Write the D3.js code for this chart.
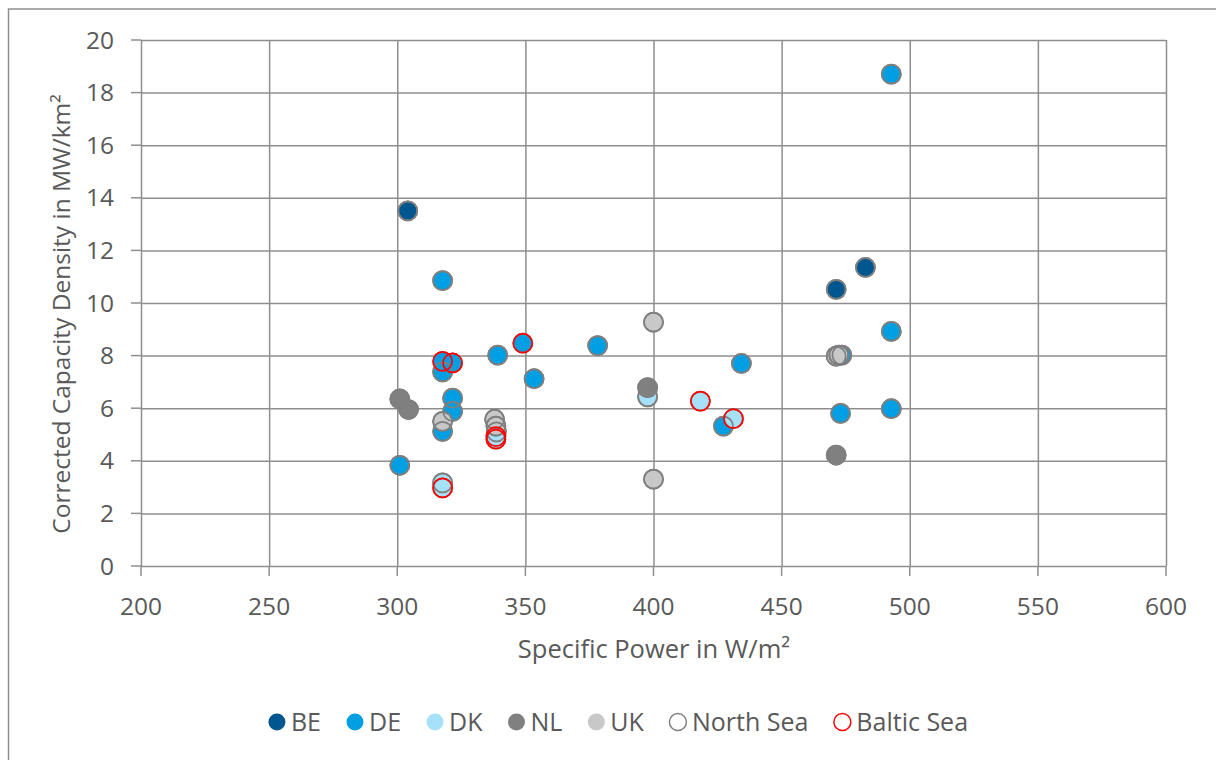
<!DOCTYPE html>
<html>
<head>
<meta charset="utf-8">
<script src="https://cdn.jsdelivr.net/npm/d3@7"></script>
<style>
  body { margin: 0; background: #fff; }
  svg { font-family: "Open Sans", "Noto Sans", sans-serif; }
</style>
</head>
<body>
<svg width="1216" height="760"></svg>
<script>
// Values: [specific power W/m², capacity density MW/km², sea]
const countries = ["BE", "DE", "DK", "NL", "UK"];
const seas = ["North Sea", "Baltic Sea"];

const beData = [
  [304.1, 13.5, "North Sea"], [482.7, 11.35, "North Sea"], [471.3, 10.52, "North Sea"]
];
const deData = [
  [492.8, 18.7, "North Sea"], [317.7, 10.85, "North Sea"], [339.2, 8.02, "North Sea"],
  [378.2, 8.38, "North Sea"], [353.4, 7.12, "North Sea"], [434.3, 7.7, "North Sea"],
  [492.8, 8.92, "North Sea"], [492.8, 5.98, "North Sea"], [473.0, 5.8, "North Sea"],
  [427.3, 5.32, "North Sea"], [321.6, 6.38, "North Sea"], [321.6, 5.88, "North Sea"],
  [317.7, 7.38, "North Sea"], [317.7, 5.12, "North Sea"], [301.0, 3.83, "North Sea"],
  [473.5, 8.02, "North Sea"],
  [349.0, 8.47, "Baltic Sea"], [317.7, 7.78, "Baltic Sea"], [321.6, 7.72, "Baltic Sea"]
];
const dkData = [
  [397.7, 6.43, "North Sea"], [338.7, 5.1, "North Sea"], [317.7, 3.16, "North Sea"],
  [418.3, 6.27, "Baltic Sea"], [431.2, 5.6, "Baltic Sea"], [338.5, 4.92, "Baltic Sea"],
  [338.5, 4.82, "Baltic Sea"], [317.7, 2.97, "Baltic Sea"]
];
const nlData = [
  [301.0, 6.35, "North Sea"], [304.4, 5.95, "North Sea"], [397.7, 6.78, "North Sea"],
  [471.3, 4.22, "North Sea"]
];
const ukData = [
  [400.0, 9.27, "North Sea"], [400.0, 3.3, "North Sea"], [471.3, 7.98, "North Sea"],
  [472.3, 8.02, "North Sea"], [317.7, 5.5, "North Sea"], [338.0, 5.58, "North Sea"],
  [338.5, 5.32, "North Sea"]
];

const xTicks = [200, 250, 300, 350, 400, 450, 500, 550, 600];
const yTicks = [0, 2, 4, 6, 8, 10, 12, 14, 16, 18, 20];

const seriesData = [beData, deData, dkData, nlData, ukData];
const fills = ["#00578F", "#009FE3", "#A6E1FA", "#808080", "#C8C8C8"];
const seaStroke = { "North Sea": "#7F7F7F", "Baltic Sea": "#FF0000" };

const svg = d3.select("svg");
const gridColor = "#8E8E8E";
const textColor = "#595959";
const r = 9.5;

// chart frame (runs off the right and bottom edge like the reference)
svg.append("rect")
  .attr("x", 8.5).attr("y", 9)
  .attr("width", 1240).attr("height", 780)
  .attr("fill", "none").attr("stroke", "#8E8E8E").attr("stroke-width", 1.5);

const x = d3.scaleLinear().domain([200, 600]).range([141, 1166]);
const y = d3.scaleLinear().domain([0, 20]).range([566, 40]);

// gridlines via axes
const xAxis = svg.append("g")
  .attr("transform", `translate(0,${y(0)})`)
  .call(d3.axisBottom(x).tickValues(xTicks).tickSize(-(y(0) - y(20))).tickSizeOuter(0).tickFormat(""));
const yAxis = svg.append("g")
  .attr("transform", `translate(${x(200)},0)`)
  .call(d3.axisLeft(y).tickValues(yTicks).tickSize(-(x(600) - x(200))).tickSizeOuter(0).tickFormat(""));

[xAxis, yAxis].forEach(a => {
  a.select(".domain").remove();
  a.selectAll("line").attr("stroke", gridColor).attr("stroke-width", 1.5);
});

// short tick stubs outside the plot
svg.append("g").selectAll("line").data(xTicks).join("line")
  .attr("x1", d => x(d)).attr("x2", d => x(d))
  .attr("y1", y(0)).attr("y2", y(0) + 10)
  .attr("stroke", gridColor).attr("stroke-width", 1.5);
svg.append("g").selectAll("line").data(yTicks).join("line")
  .attr("x1", x(200) - 10).attr("x2", x(200))
  .attr("y1", d => y(d)).attr("y2", d => y(d))
  .attr("stroke", gridColor).attr("stroke-width", 1.5);

// tick labels
svg.append("g").selectAll("text").data(xTicks).join("text")
  .attr("x", d => x(d)).attr("y", 615)
  .attr("text-anchor", "middle")
  .attr("font-size", 24.5).attr("fill", textColor)
  .text(d => d);
svg.append("g").selectAll("text").data(yTicks).join("text")
  .attr("x", 114).attr("y", d => y(d))
  .attr("dy", "0.35em")
  .attr("text-anchor", "end")
  .attr("font-size", 24.5).attr("fill", textColor)
  .text(d => d);

// axis titles
svg.append("text")
  .attr("x", 654).attr("y", 658)
  .attr("text-anchor", "middle")
  .attr("font-size", 25.5).attr("fill", textColor)
  .text("Specific Power in W/m²");
svg.append("text")
  .attr("transform", "translate(70,314) rotate(-90)")
  .attr("text-anchor", "middle")
  .attr("font-size", 24.5).attr("fill", textColor)
  .text("Corrected Capacity Density in MW/km²");

// filled country markers
const plot = svg.append("g");
seriesData.forEach((data, i) => {
  plot.append("g").selectAll("circle").data(data).join("circle")
    .attr("cx", d => x(d[0])).attr("cy", d => y(d[1]))
    .attr("r", r)
    .attr("fill", fills[i])
    .attr("stroke", "#7F7F7F").attr("stroke-width", 1.75);
});

// hollow sea markers on top
const allPoints = seriesData.flat();
seas.forEach(sea => {
  plot.append("g").selectAll("circle").data(allPoints.filter(d => d[2] === sea)).join("circle")
    .attr("cx", d => x(d[0])).attr("cy", d => y(d[1]))
    .attr("r", r)
    .attr("fill", "none")
    .attr("stroke", seaStroke[sea]).attr("stroke-width", 1.75);
});

// legend
const legendItems = countries.map((c, i) => ({ label: c, fill: fills[i], stroke: "none" }))
  .concat(seas.map(s => ({ label: s, fill: "#fff", stroke: seaStroke[s] })));

const legendGap = 25;
const legend = svg.append("g");
let cursor = 0;
legendItems.forEach(item => {
  const g = legend.append("g").attr("transform", `translate(${cursor},0)`);
  g.append("circle")
    .attr("cx", 9).attr("cy", 0).attr("r", 8.5)
    .attr("fill", item.fill)
    .attr("stroke", item.stroke).attr("stroke-width", 1.5);
  const t = g.append("text")
    .attr("x", 23).attr("dy", "0.35em")
    .attr("font-size", 25).attr("fill", textColor)
    .text(item.label);
  cursor += 23 + t.node().getComputedTextLength() + legendGap;
});
const legendWidth = cursor - legendGap;
legend.attr("transform", `translate(${(1216 - legendWidth) / 2 + 10},722)`);
</script>
</body>
</html>
